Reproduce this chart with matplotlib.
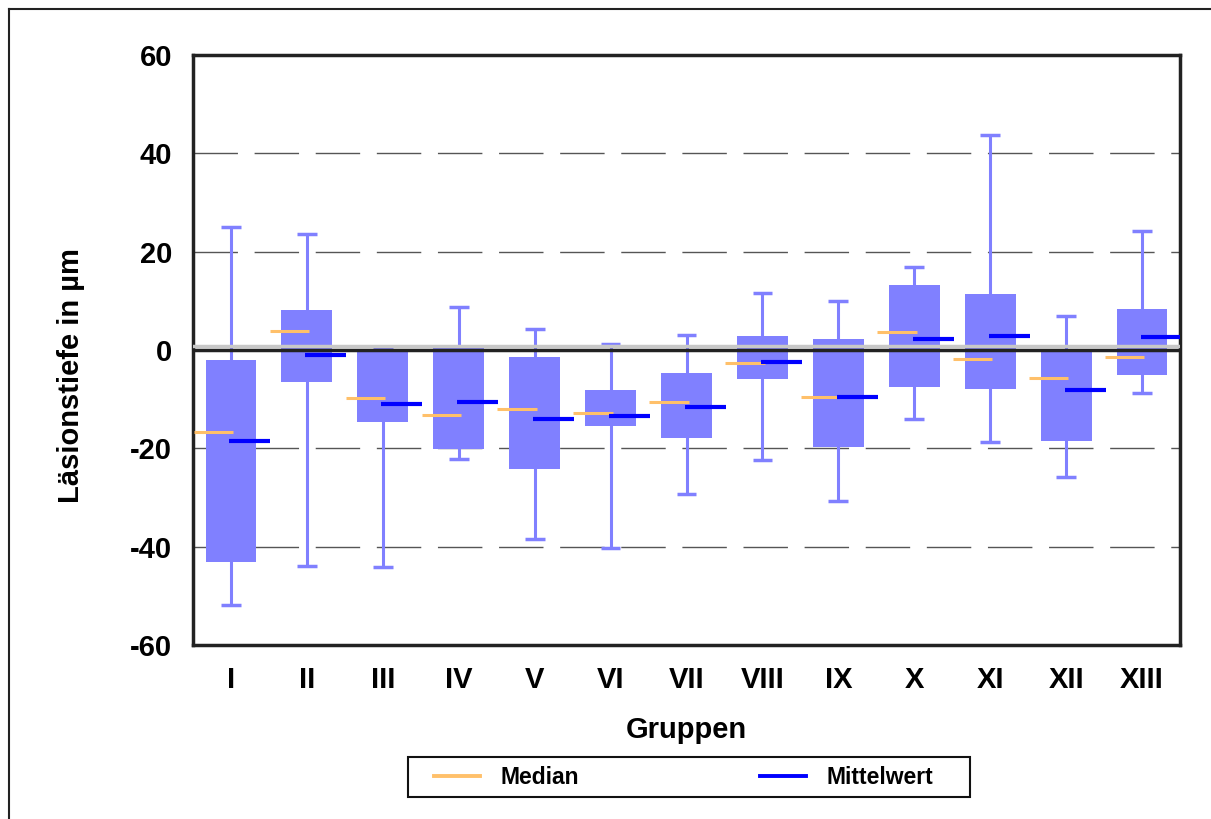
import matplotlib.pyplot as plt
from matplotlib.lines import Line2D
from matplotlib.patches import Rectangle
import numpy as np

plt.rcParams['font.family'] = ['Liberation Sans', 'DejaVu Sans']
plt.rcParams['font.weight'] = 'bold'
plt.rcParams['axes.unicode_minus'] = False

# Gruppen und Kennwerte
gruppen = ["I", "II", "III", "IV", "V", "VI", "VII", "VIII", "IX", "X", "XI", "XII", "XIII"]
whisker_max = [25.0, 23.6, 0.7, 8.7, 4.2, 1.2, 3.0, 11.6, 10.0, 16.9, 43.8, 6.9, 24.3]
box_oben = [-2.1, 8.1, 0.0, 1.1, -1.4, -8.2, -4.7, 2.8, 2.2, 13.2, 11.4, 0.0, 8.3]
box_unten = [-43.2, -6.6, -14.7, -20.2, -24.3, -15.5, -17.8, -5.8, -19.7, -7.5, -7.9, -18.6, -5.0]
whisker_min = [-51.8, -43.9, -44.2, -22.2, -38.5, -40.2, -29.2, -22.4, -30.7, -14.0, -18.8, -25.8, -8.7]
median = [-16.7, 3.8, -9.8, -13.3, -11.9, -12.8, -10.6, -2.6, -9.6, 3.7, -1.8, -5.6, -1.4]
mittelwert = [-18.5, -1.1, -10.9, -10.6, -14.0, -13.5, -11.5, -2.4, -9.6, 2.2, 2.8, -8.1, 2.7]

box_farbe = "#8080FF"
median_farbe = "#FFC06A"
mittel_farbe = "#0000FF"

fig = plt.figure(figsize=(12.11, 8.19), dpi=100)
ax = fig.add_axes([193 / 1211, 1 - 645 / 819, (1180 - 193) / 1211, (645 - 55) / 819])

x = np.arange(len(gruppen))

# Gitterlinien
for y in [-40, -20, 20, 40]:
    ax.axhline(y, color="#555555", lw=1, dashes=(32, 12), zorder=1)

# Whisker und Boxen
ax.vlines(x, whisker_min, whisker_max, color=box_farbe, lw=2.2, zorder=2)
ax.hlines(whisker_max, x - 0.13, x + 0.13, color=box_farbe, lw=2.5, zorder=2)
ax.hlines(whisker_min, x - 0.13, x + 0.13, color=box_farbe, lw=2.5, zorder=2)
hoehe = np.array(box_oben) - np.array(box_unten)
ax.bar(x, hoehe, bottom=box_unten, width=0.67, color=box_farbe, zorder=3)

# Nulllinie
ax.axhline(0.9, color="#c8c8c8", lw=2.5, zorder=4)
ax.axhline(0, color="#222222", lw=2.5, zorder=4)

# Median und Mittelwert
ax.hlines(median, x - 0.49, x + 0.03, color=median_farbe, lw=2.2, zorder=5)
ax.hlines(mittelwert, x - 0.02, x + 0.52, color=mittel_farbe, lw=3, zorder=5)

ax.set_xlim(-0.5, len(gruppen) - 0.5)
ax.set_ylim(-60, 60)
ax.set_yticks(range(-60, 61, 20))
ax.set_xticks(x)
ax.set_xticklabels(gruppen)
ax.tick_params(axis="both", length=0, labelsize=21, pad=15)
for s in ax.spines.values():
    s.set_linewidth(2.5)
    s.set_color("#222222")

ax.set_ylabel("Läsionstiefe in µm", fontsize=21, fontweight="bold")
ax.yaxis.set_label_coords(-0.109, 0.456)
ax.set_xlabel("Gruppen", fontsize=21, fontweight="bold", labelpad=16)

# Legende
handles = [Line2D([], [], color=median_farbe, lw=2.8),
           Line2D([], [], color=mittel_farbe, lw=2.8)]
leg = fig.legend(handles, ["Median", "Mittelwert"], ncol=2, loc="center",
                 bbox_to_anchor=(684 / 1211, 1 - 778 / 819),
                 borderaxespad=0, frameon=False,
                 prop={"size": 16.5, "weight": "bold"}, handlelength=2.0,
                 handletextpad=0.9, columnspacing=7.9, borderpad=0.4)
fig.add_artist(Rectangle((408 / 1211, 1 - 797 / 819), 562 / 1211, 40 / 819,
                         transform=fig.transFigure, fill=False,
                         edgecolor="#111111", lw=1.5))

# Rahmen um die Grafik
fig.add_artist(Line2D([9 / 1211, 9 / 1211], [0, 1 - 9 / 819], color="#222222", lw=1.5))
fig.add_artist(Line2D([9 / 1211, 1], [1 - 9 / 819, 1 - 9 / 819], color="#222222", lw=1.5))

plt.savefig("out.png", dpi=100)
